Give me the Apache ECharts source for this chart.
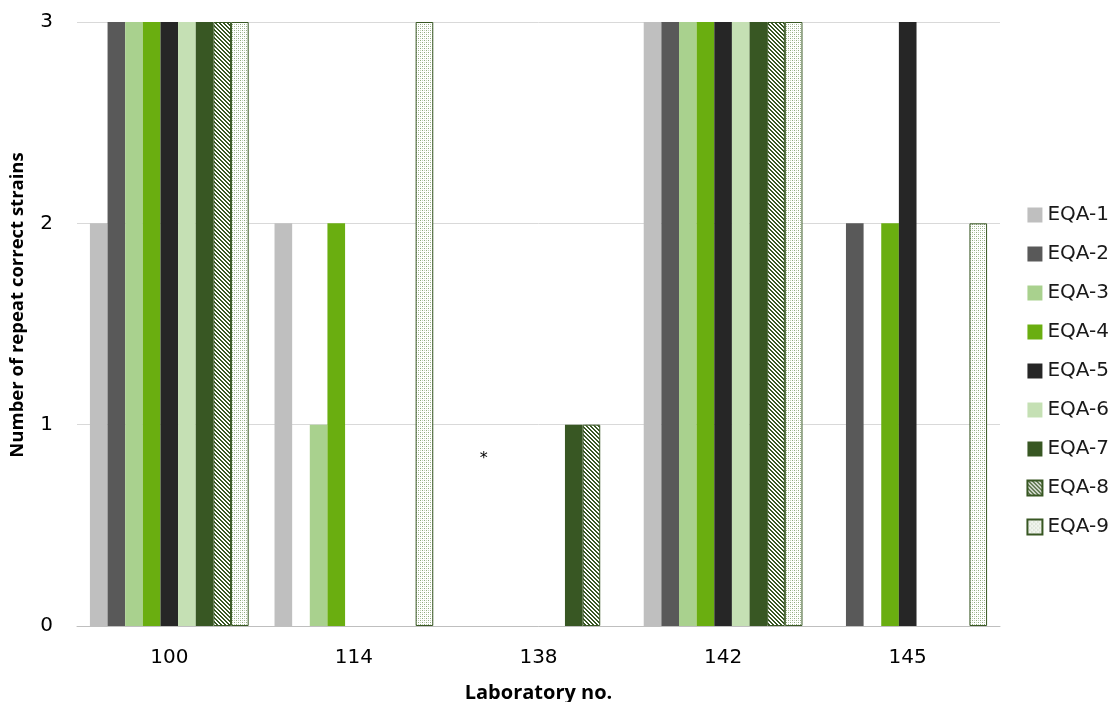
<!DOCTYPE html>
<html>
<head>
<meta charset="utf-8">
<style>
  html, body { margin: 0; padding: 0; background: #ffffff; }
  #chart { width: 1117px; height: 702px; }
</style>
<script src="https://cdn.jsdelivr.net/npm/echarts@6/dist/echarts.min.js"></script>
</head>
<body>
<div id="chart"></div>
<script>
// Laboratories on the category axis
const laboratories = ['100', '114', '138', '142', '145'];

// Number of repeat correct strains per EQA round, one value per laboratory
const eqa1 = [2, 2, 0, 3, 0];
const eqa2 = [3, 0, 0, 3, 2];
const eqa3 = [3, 1, 0, 3, 0];
const eqa4 = [3, 2, 0, 3, 2];
const eqa5 = [3, 0, 0, 3, 3];
const eqa6 = [3, 0, 0, 3, 0];
const eqa7 = [3, 0, 1, 3, 0];
const eqa8 = [3, 0, 1, 3, 0];
const eqa9 = [3, 3, 0, 3, 2];

const seriesNames = ['EQA-1', 'EQA-2', 'EQA-3', 'EQA-4', 'EQA-5', 'EQA-6', 'EQA-7', 'EQA-8', 'EQA-9'];
const seriesValues = [eqa1, eqa2, eqa3, eqa4, eqa5, eqa6, eqa7, eqa8, eqa9];

// Value axis ticks
const yTicks = [0, 1, 2, 3];

const darkGreen = '#385723';

// Diagonal hatch fill
function makeHatch() {
  const c = document.createElement('canvas');
  c.width = 4; c.height = 4;
  const ctx = c.getContext('2d');
  ctx.fillStyle = '#ffffff';
  ctx.fillRect(0, 0, 4, 4);
  ctx.fillStyle = darkGreen;
  for (let y = 0; y < 4; y++) {
    for (let x = 0; x < 4; x++) {
      const d = ((x - y) % 4 + 4) % 4;
      if (d === 0 || d === 1) ctx.fillRect(x, y, 1, 1);
    }
  }
  return c;
}

// Dotted fill
function makeDots() {
  const c = document.createElement('canvas');
  c.width = 4; c.height = 4;
  const ctx = c.getContext('2d');
  ctx.fillStyle = '#ffffff';
  ctx.fillRect(0, 0, 4, 4);
  ctx.fillStyle = '#8fa97d';
  ctx.fillRect(0, 0, 1, 1);
  ctx.fillRect(2, 2, 1, 1);
  ctx.fillStyle = '#c3d3b8';
  ctx.fillRect(0, 2, 1, 1);
  ctx.fillRect(2, 0, 1, 1);
  return c;
}

const fills = [
  '#BFBFBF', '#595959', '#A9D18E', '#6AAE10', '#262626', '#C5E0B4', darkGreen,
  { image: makeHatch(), repeat: 'repeat' },
  { image: makeDots(), repeat: 'repeat' }
];

const chart = echarts.init(document.getElementById('chart'), null, { renderer: 'canvas' });

const axisFont = 'DejaVu Sans, Verdana, sans-serif';
const titleFont = 'Open Sans, Liberation Sans, sans-serif';

// Patterned bars carry an outline; zero-height ones get none so nothing shows on the axis
function barData(values, outlined) {
  return values.map(v => (outlined && v === 0) ? { value: v, itemStyle: { borderWidth: 0 } } : v);
}

const option = {
  animation: false,
  backgroundColor: '#ffffff',
  grid: { left: 77, right: 117, top: 22, bottom: 76, containLabel: false, outerBoundsMode: 'none' },
  legend: {
    orient: 'vertical',
    right: 3,
    top: 199,
    itemWidth: 15,
    itemHeight: 15,
    itemGap: 17,
    icon: 'rect',
    textStyle: { fontFamily: axisFont, fontSize: 20, color: '#1a1a1a', lineHeight: 22 },
    data: seriesNames
  },
  xAxis: {
    type: 'category',
    data: laboratories,
    name: 'Laboratory no.',
    nameLocation: 'middle',
    nameGap: 57,
    nameTextStyle: { fontFamily: titleFont, fontWeight: 'bold', fontSize: 20, color: '#000000' },
    axisLine: { lineStyle: { color: '#BFBFBF', width: 1 } },
    axisTick: { show: false },
    axisLabel: { fontFamily: axisFont, fontSize: 20, color: '#000000', margin: 22 }
  },
  yAxis: {
    type: 'value',
    min: yTicks[0],
    max: yTicks[yTicks.length - 1],
    interval: 1,
    name: 'Number of repeat correct strains',
    nameLocation: 'middle',
    nameGap: 50,
    nameTextStyle: { fontFamily: titleFont, fontWeight: 'bold', fontSize: 18.5, color: '#000000', padding: [0, 0, 0, 38] },
    axisLine: { show: false },
    axisTick: { show: false },
    splitLine: { lineStyle: { color: '#D9D9D9', width: 1 } },
    axisLabel: { fontFamily: axisFont, fontSize: 20, color: '#000000', margin: 24 }
  },
  series: seriesNames.map((name, i) => ({
    name: name,
    type: 'bar',
    data: barData(seriesValues[i], i >= 7),
    barGap: '0%',
    barCategoryGap: '14%',
    itemStyle: i >= 7
      ? { color: fills[i], borderColor: darkGreen, borderWidth: 1 }
      : { color: fills[i] }
  }))
};

chart.setOption(option);

// Asterisk note above laboratory 138, drawn over the EQA-2 slot
const noteValue = 0.83;
const centre = chart.convertToPixel({ gridIndex: 0 }, ['138', noteValue]);
const bandWidth = chart.convertToPixel({ gridIndex: 0 }, ['142', 0])[0] - centre[0];
const slot = bandWidth * 0.86 / seriesNames.length;
const noteX = centre[0] - slot * 3.1;
chart.setOption({
  graphic: [{
    type: 'text',
    x: noteX,
    y: centre[1],
    style: {
      text: '*',
      fontFamily: axisFont,
      fontSize: 16,
      fill: '#000000',
      align: 'center',
      verticalAlign: 'middle'
    }
  }]
});
</script>
</body>
</html>
